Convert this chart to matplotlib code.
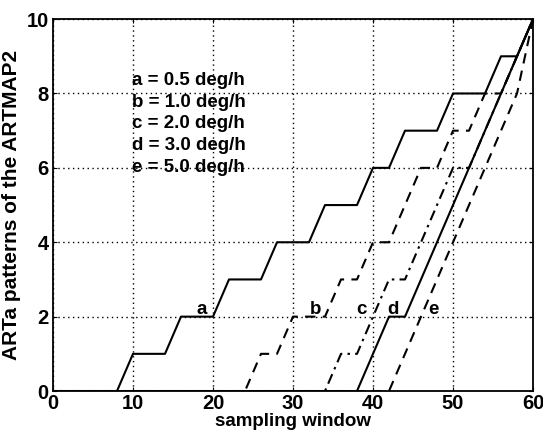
import matplotlib
matplotlib.use('Agg')
import matplotlib.pyplot as plt

plt.rcParams['font.family'] = ['Liberation Sans', 'DejaVu Sans']
plt.rcParams['font.weight'] = 'bold'

# pattern curves (x = sampling window, y = ARTa pattern)
a_x = [0, 8, 10, 14, 16, 20, 22, 26, 28, 32, 34, 38, 40, 42, 44, 48, 50, 54, 56, 58, 60]
a_y = [0, 0, 1, 1, 2, 2, 3, 3, 4, 4, 5, 5, 6, 6, 7, 7, 8, 8, 9, 9, 10]
b_x = [0, 24, 26, 28, 30, 34, 36, 38, 40, 42, 46, 48, 50, 52, 54, 56, 60]
b_y = [0, 0, 1, 1, 2, 2, 3, 3, 4, 4, 6, 6, 7, 7, 8, 8, 10]
c_x = [0, 34, 36, 38, 42, 44, 50, 52, 60]
c_y = [0, 0, 1, 1, 3, 3, 6, 6, 10]
d_x = [0, 38, 42, 44, 60]
d_y = [0, 0, 2, 2, 10]
e_x = [0, 42, 58, 60]
e_y = [0, 0, 8, 10]

curve_labels = ['a', 'b', 'c', 'd', 'e']
label_x = [18.6, 32.8, 38.6, 42.5, 47.5]
label_y = [2.2, 2.2, 2.2, 2.2, 2.2]

rates = ['a = 0.5 deg/h', 'b = 1.0 deg/h', 'c = 2.0 deg/h', 'd = 3.0 deg/h', 'e = 5.0 deg/h']

fig = plt.figure(figsize=(5.43, 4.34), dpi=100)
ax = fig.add_axes([0.0976, 0.099, 0.884, 0.857])

ax.plot(a_x, a_y, '-', color='black', lw=1.5)
ax.plot(b_x, b_y, '--', color='black', lw=1.5, dashes=(5, 3.5))
ax.plot(c_x, c_y, '-.', color='black', lw=1.5, dashes=(5, 2.5, 1.2, 2.5))
ax.plot(d_x, d_y, '-', color='black', lw=1.5)
ax.plot(e_x, e_y, '--', color='black', lw=1.5, dashes=(5, 3.5))

for t, x, y in zip(curve_labels, label_x, label_y):
    ax.text(x, y, t, ha='center', va='center', fontsize=13.5, fontweight='bold')

for i, s in enumerate(rates):
    ax.text(9.9, 8.36 - i * 0.59, s, ha='left', va='center', fontsize=13.5, fontweight='bold')

ax.set_xlim(0, 60)
ax.set_ylim(0, 10)
ax.set_xticks([0, 10, 20, 30, 40, 50, 60])
ax.set_yticks([0, 2, 4, 6, 8, 10])
ax.grid(True, linestyle=(0, (1, 2.5)), color='black', lw=1.0)
ax.tick_params(direction='in', length=3, labelsize=14.5, top=True, right=True)
ax.tick_params(axis='x', pad=2)
ax.tick_params(axis='y', pad=3)
for lab in ax.get_xticklabels() + ax.get_yticklabels():
    lab.set_fontweight('bold')
for sp in ax.spines.values():
    sp.set_linewidth(1.3)

ax.set_xlabel('sampling window', fontsize=13.5, fontweight='bold', labelpad=0)
ax.set_ylabel('ARTa patterns of the ARTMAP2', fontsize=15, fontweight='bold', labelpad=4)

fig.savefig('out.png', dpi=100)
